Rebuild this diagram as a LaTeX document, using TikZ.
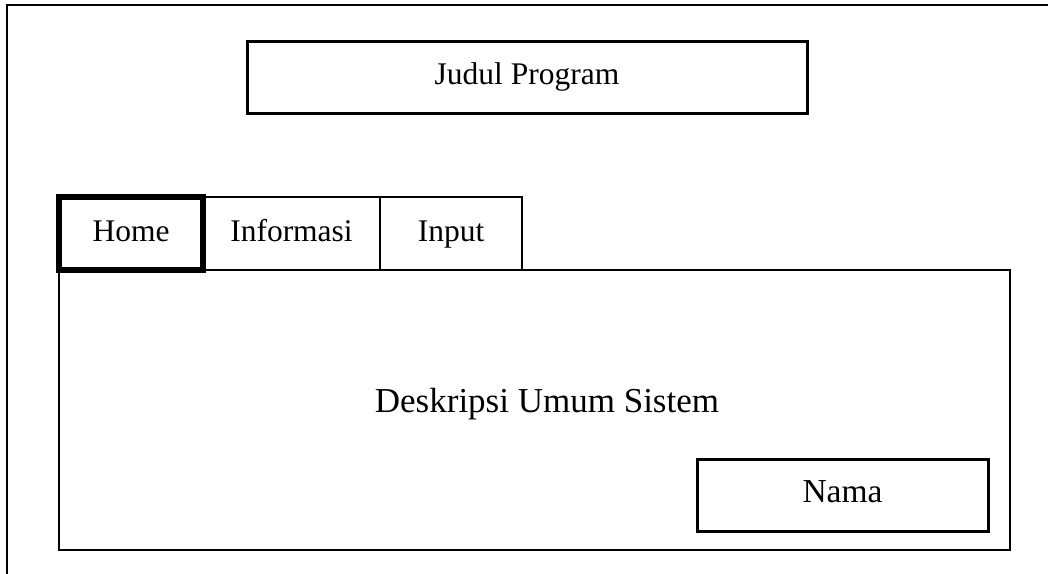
\documentclass[tikz,border=0pt]{standalone}
\usepackage{fontspec}
\setmainfont{Liberation Serif}
\begin{document}
\begin{tikzpicture}[x=1pt,y=-1pt,
  label text/.style={font=\fontsize{31.5}{37}\selectfont, text height=22pt, text depth=7pt},
  box/.style={draw=black, line width=3pt, inner sep=0pt, outer sep=0pt, anchor=north west},
  tabbox/.style={draw=black, line width=1.6pt, inner sep=0pt, outer sep=0pt, anchor=north west, label text},
  activetab/.style={draw=black, line width=5.2pt, inner sep=0pt, outer sep=0pt, anchor=north west, label text}]
  \useasboundingbox (0,0) rectangle (1048,573);
  \fill[white] (0,0) rectangle (1048,573);

  % window frame (top and left edges)
  \coordinate (frameBL) at (7,580);
  \coordinate (frameTL) at (7,5);
  \coordinate (frameTR) at (1060,5);
  \draw[line width=2.6pt] (frameBL) -- (frameTL) -- (frameTR);

  % program title
  \node[box, label text, minimum width=560pt, minimum height=72pt] (title) at (247,41) {Judul Program};

  % content panel
  \node[box, line width=2.4pt, minimum width=951pt, minimum height=280pt] (panel) at (59,270) {};
  \node[label text, font=\fontsize{35}{41}\selectfont] (desc) at (547,405) {Deskripsi Umum Sistem};
  \node[box, label text, font=\fontsize{33.5}{40}\selectfont, minimum width=291pt, minimum height=72pt] (nama) at (697,459) {Nama};

  % tabs
  \node[tabbox, minimum width=177pt, minimum height=73pt] (info) at (203,197) {Informasi};
  \node[tabbox, minimum width=142pt, minimum height=73pt] (input) at (380,197) {Input};
  \node[activetab, minimum width=144pt, minimum height=73pt] (home) at (59,197) {Home};
\end{tikzpicture}
\end{document}
